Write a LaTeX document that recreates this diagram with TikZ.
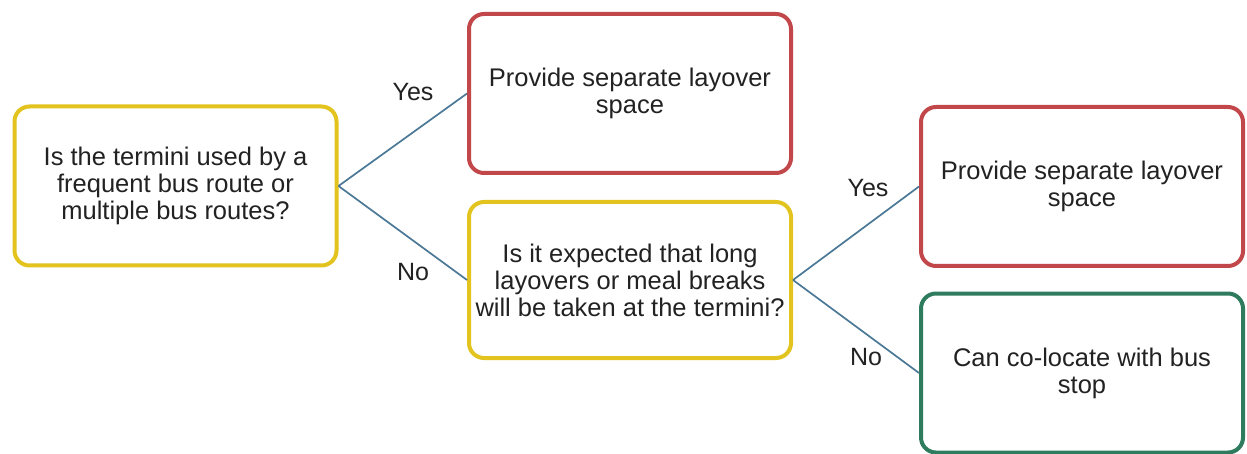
\documentclass[tikz,border=0pt]{standalone}
\usepackage{fontspec}
\setmainfont{Liberation Sans}
\definecolor{yel}{HTML}{E3C31E}
\definecolor{redb}{HTML}{C2474B}
\definecolor{grn}{HTML}{2E7B5E}
\definecolor{conn}{HTML}{4A7896}
\definecolor{txt}{HTML}{222222}
\begin{document}
\begin{tikzpicture}[x=1pt,y=-1pt,
  box/.style={draw, rounded corners=15pt, line width=4pt, fill=white,
    minimum width=322pt, minimum height=159pt, align=center, inner sep=0pt,
    text=txt, font=\fontsize{25.5pt}{27pt}\selectfont},
  ybox/.style={box, draw=yel},
  rbox/.style={box, draw=redb},
  gbox/.style={box, draw=grn},
  conline/.style={draw=conn, line width=1.7pt},
  lbl/.style={text=txt, font=\fontsize{25pt}{27pt}\selectfont, inner sep=0pt}]
\useasboundingbox[fill=white] (0,0) rectangle (1247,454);
\node[ybox] (b1) at (175.5,186) {Is the termini used by a\\frequent bus route or\\multiple bus routes?};
\node[rbox] (b2) at (630,93.5) {Provide separate layover\\space};
\node[ybox, minimum height=156pt] (b3) at (630,280) {Is it expected that long\\layovers or meal breaks\\will be taken at the termini?};
\node[rbox] (b4) at (1082,186.5) {Provide separate layover\\space};
\node[gbox] (b5) at (1082,373) {Can co-locate with bus\\stop};
\draw[conline] (b1.east) -- (b2.west);
\draw[conline] (b1.east) -- (b3.west);
\draw[conline] (b3.east) -- (b4.west);
\draw[conline] (b3.east) -- (b5.west);
\node[lbl] (l1) at (413,92) {Yes};
\node[lbl] (l2) at (413,272) {No};
\node[lbl] (l3) at (868,188) {Yes};
\node[lbl] (l4) at (866,357) {No};
\end{tikzpicture}
\end{document}
